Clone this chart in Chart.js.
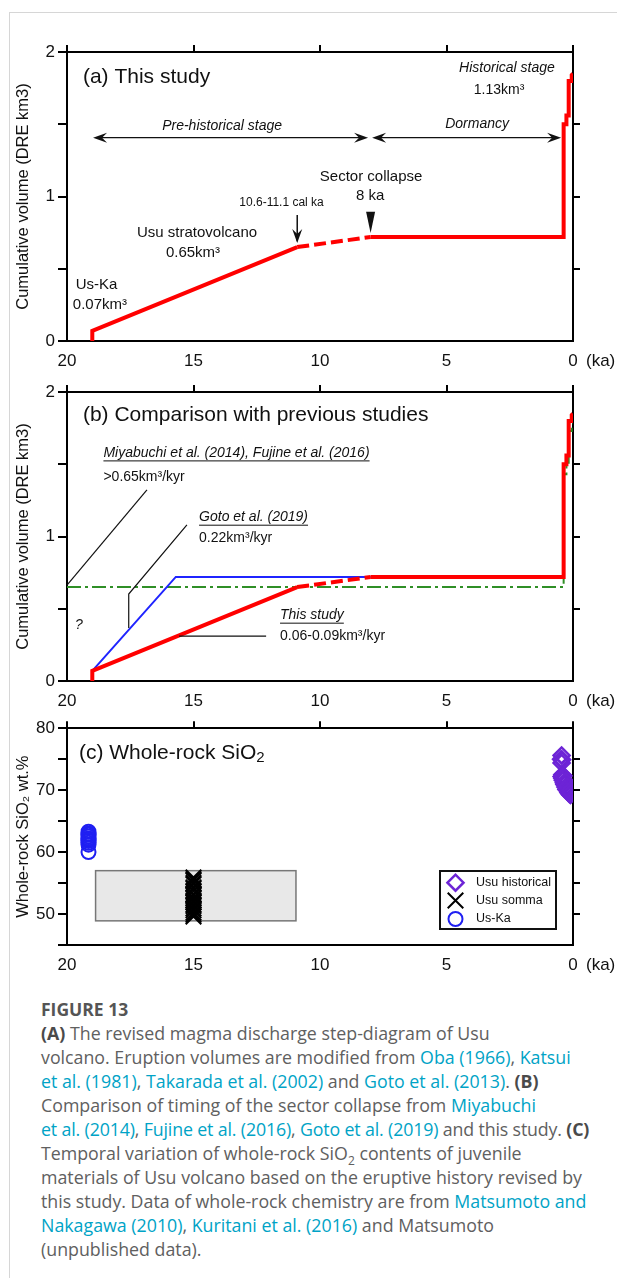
<!DOCTYPE html>
<html>
<head>
<meta charset="utf-8">
<script src="https://cdn.jsdelivr.net/npm/chart.js@4.4.1/dist/chart.umd.min.js"></script>
<style>
  html, body { margin: 0; padding: 0; background: #fff; }
  body { width: 617px; height: 1278px; position: relative; overflow: hidden; }
  .frame { position: absolute; left: 9px; top: 12px; right: 0; bottom: 0; border-left: 1px solid #d6d6d6; border-top: 1px solid #d6d6d6; }
  .panel { position: absolute; left: 0; width: 617px; }
  #panelA { top: 30px; height: 345px; }
  #panelB { top: 375px; height: 340px; }
  #panelC { top: 715px; height: 264px; }
  .caption { position: absolute; left: 41px; top: 997px; font-family: "Open Sans", Lato, sans-serif; font-size: 17.8px; line-height: 24px; color: #606060; white-space: nowrap; }
  .caption .fig { font-weight: bold; font-size: 17.5px; color: #555; }
  .caption b { color: #4a4a4a; }
  .caption a { color: #00a3c6; text-decoration: none; }
  .caption sub { font-size: 12px; line-height: 0; }
  .caption .tight { letter-spacing: -0.15px; }
</style>
</head>
<body>
<div class="frame"></div>
<div class="panel" id="panelA"><canvas id="chartA"></canvas></div>
<div class="panel" id="panelB"><canvas id="chartB"></canvas></div>
<div class="panel" id="panelC"><canvas id="chartC"></canvas></div>

<div class="caption">
  <div class="fig">FIGURE 13</div>
  <div><b>(A)</b> The revised magma discharge step-diagram of Usu</div>
  <div>volcano. Eruption volumes are modified from <a>Oba (1966)</a>, <a>Katsui</a></div>
  <div><a>et al. (1981)</a>, <a>Takarada et al. (2002)</a> and <a>Goto et al. (2013)</a>. <b>(B)</b></div>
  <div>Comparison of timing of the sector collapse from <a>Miyabuchi</a></div>
  <div class="tight"><a>et al. (2014)</a>, <a>Fujine et al. (2016)</a>, <a>Goto et al. (2019)</a> and this study. <b>(C)</b></div>
  <div>Temporal variation of whole-rock SiO<sub>2</sub> contents of juvenile</div>
  <div>materials of Usu volcano based on the eruptive history revised by</div>
  <div>this study. Data of whole-rock chemistry are from <a>Matsumoto and</a></div>
  <div><a>Nakagawa (2010)</a>, <a>Kuritani et al. (2016)</a> and Matsumoto</div>
  <div>(unpublished data).</div>
</div>

<script>
// ---- data (ages in ka, volumes in km3 DRE) ----
const stratoAge = [19.0, 19.0, 10.9];
const stratoVol = [0, 0.07, 0.65];
const gapAge = [10.9, 8.0];
const gapVol = [0.65, 0.72];
const historyAge = [8.0, 0.37, 0.37, 0.26, 0.26, 0.17, 0.17, 0.05, 0.05, 0.0];
const historyVol = [0.72, 0.72, 1.50, 1.50, 1.56, 1.56, 1.80, 1.80, 1.84, 1.85];

// previous studies (panel b)
const gotoAge = [19.0, 15.7, 8.0];
const gotoVol = [0.07, 0.72, 0.72];
const miyaAge = [20.0, 0.37, 0.37, 0.26, 0.26, 0.17, 0.17, 0.05, 0.05, 0.0];
const miyaVol = [0.65, 0.65, 1.43, 1.43, 1.49, 1.49, 1.73, 1.73, 1.77, 1.78];

// whole-rock SiO2 (panel c)
const histAge = [0.45, 0.47, 0.43, 0.45, 0.42, 0.45, 0.42, 0.40, 0.38, 0.36, 0.34, 0.30, 0.30, 0.26, 0.22, 0.20, 0.18, 0.14, 0.12, 0.10, 0.08];
const histSiO2 = [75.6, 75.0, 74.9, 74.4, 72.5, 72.2, 71.9, 71.6, 72.3, 71.2, 70.9, 71.4, 70.5, 70.1, 70.6, 69.9, 69.6, 69.4, 70.0, 69.2, 69.6];
const sommaAge = [15, 15, 15, 15, 15, 15, 15, 15, 15, 15, 15, 15, 15, 15, 15, 15, 15, 15, 15, 15];
const sommaSiO2 = [55.9, 55.6, 55.4, 55.0, 54.8, 54.3, 54.1, 53.7, 53.2, 53.0, 52.6, 52.2, 51.9, 51.5, 51.3, 50.9, 50.6, 50.2, 49.9, 49.6];
const uskaAge = [19.15, 19.15, 19.15, 19.15, 19.15, 19.15, 19.15, 19.15, 19.15, 19.15];
const uskaSiO2 = [63.3, 63.0, 62.8, 62.5, 62.2, 62.0, 61.8, 61.5, 61.2, 60.0];
const sommaRangeAge = [18.87, 10.95];
const sommaRangeSiO2 = [48.9, 57.0];

const legendLabels = ['Usu historical', 'Usu somma', 'Us-Ka'];

const FONT = '"Liberation Sans", Arial, Helvetica, sans-serif';
Chart.defaults.font.family = FONT;
Chart.defaults.color = '#111';

const pts = (xs, ys) => xs.map((x, i) => ({ x: x, y: ys[i] }));

function redLines() {
  const base = { showLine: true, pointRadius: 0, borderColor: '#ff0000', borderWidth: 4, borderJoinStyle: 'miter', borderCapStyle: 'butt' };
  return [
    Object.assign({ data: pts(stratoAge, stratoVol) }, base),
    Object.assign({ data: pts(gapAge, gapVol), borderDash: [12, 5] }, base),
    Object.assign({ data: pts(historyAge, historyVol) }, base)
  ];
}

function buildScales(cfg) {
  const tickCol = which => ctx => (which.includes(ctx.tick.value) ? '#000' : 'rgba(0,0,0,0)');
  return {
    x: {
      type: 'linear', position: 'bottom', min: 0, max: 20, reverse: true,
      afterFit: s => { s.height = 34; },
      border: { display: true, color: '#000', width: 2 },
      grid: { drawOnChartArea: false, drawTicks: false },
      ticks: { stepSize: 5, padding: 10, color: '#111', font: { size: 17 }, maxRotation: 0 }
    },
    xTop: {
      type: 'linear', position: 'top', min: 0, max: 20, reverse: true, display: true,
      afterFit: s => { s.height = cfg.topPad; },
      border: { display: true, color: '#000', width: 2 },
      grid: { drawOnChartArea: false, drawTicks: true, tickLength: 7, color: '#000', lineWidth: 2 },
      ticks: { stepSize: 5, display: false }
    },
    y: {
      type: 'linear', position: 'left', min: cfg.yMin, max: cfg.yMax,
      afterFit: s => { s.width = 67; },
      border: { display: true, color: '#000', width: 2 },
      grid: { drawOnChartArea: false, drawTicks: true, tickLength: 9, color: '#000', lineWidth: 2 },
      ticks: { stepSize: cfg.yStep, padding: 3, color: '#111', font: { size: 17 }, callback: cfg.yLabel },
      title: { display: true, text: cfg.yTitle, color: '#111', font: { size: 16.5 }, padding: { top: 14, bottom: 0 } }
    },
    yRight: {
      type: 'linear', position: 'right', min: cfg.yMin, max: cfg.yMax, display: true,
      afterFit: s => { s.width = 44; },
      border: { display: true, color: '#000', width: 2 },
      grid: { drawOnChartArea: false, drawTicks: true, tickLength: 7, color: tickCol(cfg.rightTicks), lineWidth: 2 },
      ticks: { stepSize: cfg.yStep, display: false }
    }
  };
}

function put(ctx, str, x, y, size, opts) {
  opts = opts || {};
  ctx.save();
  ctx.font = (opts.italic ? 'italic ' : '') + size + 'px ' + FONT;
  ctx.fillStyle = '#111';
  ctx.textAlign = opts.align || 'left';
  ctx.textBaseline = 'middle';
  ctx.fillText(str, x, y);
  const w = ctx.measureText(str).width;
  if (opts.underline) {
    const x0 = opts.align === 'center' ? x - w / 2 : x;
    ctx.fillRect(x0, y + size * 0.55, w, 1);
  }
  ctx.restore();
  return w;
}

function head(ctx, x, y, dx, dy) {
  // filled arrow head, tip at (x, y), pointing along (dx, dy)
  const px = -dy, py = dx;
  ctx.beginPath();
  ctx.moveTo(x, y);
  ctx.lineTo(x - dx * 14 + px * 5, y - dy * 14 + py * 5);
  ctx.lineTo(x - dx * 9, y - dy * 9);
  ctx.lineTo(x - dx * 14 - px * 5, y - dy * 14 - py * 5);
  ctx.closePath();
  ctx.fill();
}

function line(ctx, coords, width) {
  ctx.save();
  ctx.strokeStyle = '#111';
  ctx.lineWidth = width || 1.2;
  ctx.beginPath();
  coords.forEach((c, i) => (i ? ctx.lineTo(c[0], c[1]) : ctx.moveTo(c[0], c[1])));
  ctx.stroke();
  ctx.restore();
}

function kaLabel(chart) {
  const ctx = chart.ctx;
  ctx.save();
  ctx.font = '17px ' + FONT;
  ctx.fillStyle = '#111';
  ctx.textBaseline = 'middle';
  ctx.fillText('(ka)', chart.chartArea.right + 13, chart.chartArea.bottom + 20);
  ctx.restore();
}

const notesA = {
  id: 'notesA',
  afterDraw(chart) {
    const ctx = chart.ctx;
    const X = v => chart.scales.x.getPixelForValue(v);
    const Y = v => chart.scales.y.getPixelForValue(v);
    put(ctx, '(a) This study', X(19.37), Y(1.827), 21);
    put(ctx, 'Historical stage', X(2.61), Y(1.889), 14, { italic: true, align: 'center' });
    put(ctx, '1.13km\u00b3', X(2.92), Y(1.737), 14, { align: 'center' });
    put(ctx, 'Pre-historical stage', X(13.87), Y(1.488), 14, { italic: true, align: 'center' });
    put(ctx, 'Dormancy', X(3.79), Y(1.502), 14, { italic: true, align: 'center' });
    // double arrows
    const ya = Y(1.407);
    ctx.fillStyle = '#111';
    line(ctx, [[X(18.97) + 4, ya], [X(8.1) - 4, ya]]);
    head(ctx, X(18.97), ya, -1, 0);
    head(ctx, X(8.1), ya, 1, 0);
    line(ctx, [[X(7.94) + 4, ya], [X(0.47) - 4, ya]]);
    head(ctx, X(7.94), ya, -1, 0);
    head(ctx, X(0.47), ya, 1, 0);
    // sector collapse
    put(ctx, 'Sector collapse', X(7.98), Y(1.137), 15, { align: 'center' });
    put(ctx, '8 ka', X(8.02), Y(1.003), 15, { align: 'center' });
    ctx.beginPath();
    ctx.moveTo(X(8.0) - 4.5, Y(0.895));
    ctx.lineTo(X(8.0) + 4.5, Y(0.895));
    ctx.lineTo(X(8.0), Y(0.747));
    ctx.closePath();
    ctx.fill();
    // cal ka arrow
    put(ctx, '10.6-11.1 cal ka', X(11.52), Y(0.955), 12, { align: 'center' });
    line(ctx, [[X(10.9), Y(0.872)], [X(10.9), Y(0.69)]], 1.5);
    head(ctx, X(10.9), Y(0.678), 0, 1);
    put(ctx, 'Usu stratovolcano', X(14.86), Y(0.747), 15, { align: 'center' });
    put(ctx, '0.65km\u00b3', X(15.02), Y(0.609), 15, { align: 'center' });
    put(ctx, 'Us-Ka', X(18.83), Y(0.388), 15, { align: 'center' });
    put(ctx, '0.07km\u00b3', X(18.7), Y(0.249), 15, { align: 'center' });
    kaLabel(chart);
  }
};

const notesB = {
  id: 'notesB',
  afterDraw(chart) {
    const ctx = chart.ctx;
    const X = v => chart.scales.x.getPixelForValue(v);
    const Y = v => chart.scales.y.getPixelForValue(v);
    put(ctx, '(b) Comparison with previous studies', X(19.37), Y(1.841), 21);
    put(ctx, 'Miyabuchi et al. (2014), Fujine et al. (2016)', X(18.56), Y(1.58), 14, { italic: true, underline: true });
    put(ctx, '>0.65km\u00b3/kyr', X(18.56), Y(1.412), 14);
    line(ctx, [[X(20.0), Y(0.664)], [X(16.84), Y(1.322)]]);
    put(ctx, 'Goto et al. (2019)', X(14.78), Y(1.135), 14, { italic: true, underline: true });
    put(ctx, '0.22km\u00b3/kyr', X(14.78), Y(0.99), 14);
    line(ctx, [[X(15.26), Y(1.08)], [X(17.56), Y(0.602)], [X(17.56), Y(0.367)]]);
    put(ctx, '?', X(19.68), Y(0.388), 14, { italic: true });
    put(ctx, 'This study', X(11.58), Y(0.457), 14, { italic: true, underline: true });
    put(ctx, '0.06-0.09km\u00b3/kyr', X(11.58), Y(0.307), 14);
    line(ctx, [[X(15.57), Y(0.311)], [X(12.13), Y(0.311)]]);
    kaLabel(chart);
  }
};

const notesC = {
  id: 'notesC',
  beforeDatasetsDraw(chart) {
    const ctx = chart.ctx;
    const X = v => chart.scales.x.getPixelForValue(v);
    const Y = v => chart.scales.y.getPixelForValue(v);
    const x0 = X(sommaRangeAge[0]), x1 = X(sommaRangeAge[1]);
    const y0 = Y(sommaRangeSiO2[1]), y1 = Y(sommaRangeSiO2[0]);
    ctx.save();
    ctx.fillStyle = '#e8e8e8';
    ctx.fillRect(x0, y0, x1 - x0, y1 - y0);
    ctx.strokeStyle = '#777';
    ctx.lineWidth = 1.5;
    ctx.strokeRect(x0, y0, x1 - x0, y1 - y0);
    ctx.restore();
  },
  afterDraw(chart) {
    const ctx = chart.ctx;
    const X = v => chart.scales.x.getPixelForValue(v);
    const Y = v => chart.scales.y.getPixelForValue(v);
    const w = put(ctx, '(c) Whole-rock SiO', X(19.53), Y(75.97), 21);
    put(ctx, '2', X(19.53) + w, Y(75.97) + 5, 15);
    // legend box
    const a = chart.chartArea;
    const bx1 = a.right - 17, by1 = a.bottom - 16, bx0 = bx1 - 116, by0 = by1 - 58;
    ctx.save();
    ctx.fillStyle = '#fff';
    ctx.fillRect(bx0, by0, bx1 - bx0, by1 - by0);
    ctx.strokeStyle = '#111';
    ctx.lineWidth = 2;
    ctx.strokeRect(bx0, by0, bx1 - bx0, by1 - by0);
    ctx.restore();
    const rows = [by0 + 11.7, by0 + 29.5, by0 + 48];
    chart.data.datasets.forEach((ds, i) => {
      ctx.save();
      ctx.strokeStyle = ds.borderColor;
      ctx.fillStyle = 'rgba(0,0,0,0)';
      ctx.lineWidth = ds.borderWidth;
      Chart.helpers.drawPoint(ctx, { pointStyle: ds.pointStyle, radius: ds.pointRadius, borderWidth: ds.borderWidth, rotation: 0 }, bx0 + 15.5, rows[i]);
      ctx.restore();
      put(ctx, legendLabels[i], bx0 + 36, rows[i], 12.5);
    });
    kaLabel(chart);
  }
};

const common = {
  responsive: true,
  maintainAspectRatio: false,
  animation: false,
  events: [],
  layout: { padding: 0 },
  plugins: { legend: { display: false }, tooltip: { enabled: false } }
};

new Chart(document.getElementById('chartA'), {
  type: 'scatter',
  data: { datasets: redLines() },
  options: Object.assign({}, common, {
    scales: buildScales({
      topPad: 22, yMin: 0, yMax: 2, yStep: 0.5, rightTicks: [0.5, 1, 1.5],
      yLabel: v => (Number.isInteger(v) ? v : ''), yTitle: 'Cumulative volume (DRE km3)'
    })
  }),
  plugins: [notesA]
});

new Chart(document.getElementById('chartB'), {
  type: 'scatter',
  data: {
    datasets: redLines().concat([
      { data: pts(gotoAge, gotoVol), showLine: true, pointRadius: 0, borderColor: '#1f24ff', borderWidth: 2 },
      { data: pts(miyaAge, miyaVol), showLine: true, pointRadius: 0, borderColor: '#2f8f26', borderWidth: 2, borderDash: [14, 4, 3, 4], borderJoinStyle: 'miter' }
    ])
  },
  options: Object.assign({}, common, {
    scales: buildScales({
      topPad: 17, yMin: 0, yMax: 2, yStep: 0.5, rightTicks: [0.5, 1, 1.5],
      yLabel: v => (Number.isInteger(v) ? v : ''), yTitle: 'Cumulative volume (DRE km3)'
    })
  }),
  plugins: [notesB]
});

new Chart(document.getElementById('chartC'), {
  type: 'scatter',
  data: {
    datasets: [
      { label: legendLabels[0], data: pts(histAge, histSiO2), pointStyle: 'rectRot', pointRadius: 8, borderWidth: 2.5, borderColor: '#6d24d6', backgroundColor: 'rgba(0,0,0,0)' },
      { label: legendLabels[1], data: pts(sommaAge, sommaSiO2), pointStyle: 'crossRot', pointRadius: 11, borderWidth: 2, borderColor: '#000', backgroundColor: 'rgba(0,0,0,0)' },
      { label: legendLabels[2], data: pts(uskaAge, uskaSiO2), pointStyle: 'circle', pointRadius: 7, borderWidth: 2, borderColor: '#1f1ff2', backgroundColor: 'rgba(0,0,0,0)' }
    ]
  },
  options: Object.assign({}, common, {
    scales: buildScales({
      topPad: 13, yMin: 45, yMax: 80, yStep: 5, rightTicks: [50, 55, 60, 65, 70, 75],
      yLabel: v => (v % 10 === 0 ? v : ''), yTitle: 'Whole-rock SiO\u2082 wt.%'
    })
  }),
  plugins: [notesC]
});
</script>
</body>
</html>
